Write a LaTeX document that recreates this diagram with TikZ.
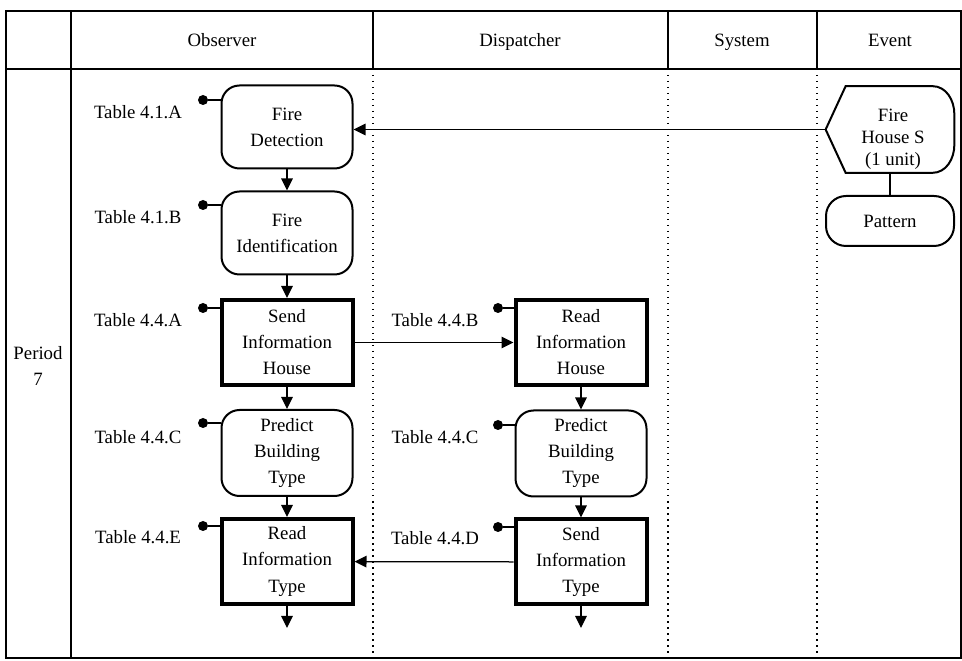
\documentclass[tikz,border=0pt]{standalone}
\usepackage{fontspec}
\setmainfont{Liberation Serif}
\usetikzlibrary{arrows.meta,calc}
\begin{document}
\begin{tikzpicture}[x=0.2mm,y=-0.2mm,
  every node/.style={font=\fontsize{10.7}{14.8}\selectfont},
  frame/.style={line width=0.4mm},
  lane/.style={line width=0.3mm, dash pattern=on 0.3mm off 0.9mm},
  head/.style={anchor=base, inner sep=0pt},
  proc/.style={draw, line width=0.4mm, rounded corners=3.6mm, minimum width=26.2mm,
    minimum height=16.6mm, align=center, inner sep=0pt},
  msg/.style={draw, line width=0.8mm, minimum width=26.2mm, minimum height=17mm,
    align=center, inner sep=0pt},
  arr/.style={line width=0.25mm, -{Triangle[length=2.4mm,width=2.3mm]}},
  link/.style={line width=0.3mm},
  pindot/.style={circle, fill, inner sep=0pt, minimum size=2mm},
  tbl/.style={anchor=center, inner sep=0pt},
]
\useasboundingbox (0,0) rectangle (962,661);

% ---- table frame and lanes ----
\draw[frame] (5.5,11) rectangle (961,658);
\draw[frame] (5.5,69) -- (961,69);
\draw[frame] (71,11) -- (71,658);
\foreach \lx in {373,668,817}{
  \draw[frame] (\lx,11) -- (\lx,69);
  \draw[lane] (\lx,69) -- (\lx,658);
}
\node[head] (hObs)  at (222,47) {Observer};
\node[head] (hDisp) at (520,47) {Dispatcher};
\node[head] (hSys)  at (742,47) {System};
\node[head] (hEv)   at (890,47) {Event};
\node[align=center] (per) at (38,366) {Period\\7};

% ---- observer lane ----
\node[proc] (fd)  at (287,127)   {Fire\\Detection};
\node[proc] (fi)  at (287,233)   {Fire\\Identification};
\node[msg]  (sih) at (287,342.5) {Send\\Information\\House};
\node[proc, minimum height=17.2mm] (pbt) at (287,453) {Predict\\Building\\Type};
\node[msg]  (rit) at (287,561.5) {Read\\Information\\Type};
\coordinate (oEnd) at (287,628);

% ---- dispatcher lane ----
\node[msg]  (rih)  at (581,342.5) {Read\\Information\\House};
\node[proc, minimum height=17.2mm] (pbt2) at (581,453.5) {Predict\\Building\\Type};
\node[msg]  (sit)  at (581,562)   {Send\\Information\\Type};
\coordinate (dEnd) at (581,628);

% ---- event lane ----
\node[minimum width=25.6mm, minimum height=17.2mm, inner sep=0pt] (ev) at (890,129.5) {};
\draw[line width=0.4mm] (ev.west) -- ([xshift=4mm]ev.north west)
  -- ([xshift=-4.4mm]ev.north east) to[out=0,in=90] ([yshift=-5.6mm]ev.north east)
  -- ([yshift=5.6mm]ev.south east) to[out=-90,in=0] ([xshift=-4.4mm]ev.south east)
  -- ([xshift=4mm]ev.south west) -- cycle;
\node[align=center, font=\fontsize{10.7}{12.4}\selectfont] (evt) at (893,139) {Fire\\House S\\(1 unit)};
\node[draw, line width=0.4mm, rounded corners=4mm, minimum width=25.6mm,
  minimum height=10mm, inner sep=0pt] (pat) at (890,221) {Pattern};
\draw[link] (ev.south) -- (pat.north);

% ---- table references with pins ----
\node[tbl] (t1) at (138,112) {Table 4.1.A};
\node[tbl] (t2) at (138,217) {Table 4.1.B};
\node[tbl] (t3) at (138,320) {Table 4.4.A};
\node[tbl] (t4) at (138,437) {Table 4.4.C};
\node[tbl] (t5) at (138,537) {Table 4.4.E};
\node[tbl] (t6) at (435,320) {Table 4.4.B};
\node[tbl] (t7) at (435,437) {Table 4.4.C};
\node[tbl] (t8) at (435,538) {Table 4.4.D};

\node[pindot] (p1) at (203,100) {};
\node[pindot] (p2) at (203,205) {};
\node[pindot] (p3) at (203,308) {};
\node[pindot] (p4) at (203,423) {};
\node[pindot] (p5) at (203,526) {};
\node[pindot] (p6) at (498,308) {};
\node[pindot] (p7) at (498,425) {};
\node[pindot] (p8) at (498,527) {};

\draw[link] (p1) -- (p1 -| fd.west);
\draw[link] (p2) -- (p2 -| fi.west);
\draw[link] (p3) -- (p3 -| sih.west);
\draw[link] (p4) -- (p4 -| pbt.west);
\draw[link] (p5) -- (p5 -| rit.west);
\draw[link] (p6) -- (p6 -| rih.west);
\draw[link] (p7) -- (p7 -| pbt2.west);
\draw[link] (p8) -- (p8 -| sit.west);

% ---- flow ----
\draw[arr] (fd) -- (fi);
\draw[arr] (fi) -- (sih);
\draw[arr] (sih) -- (pbt);
\draw[arr] (pbt) -- (rit);
\draw[arr] (rit) -- (oEnd);
\draw[arr] (rih) -- (pbt2);
\draw[arr] (pbt2) -- (sit);
\draw[arr] (sit) -- (dEnd);
\draw[arr] (sih) -- (rih);
\draw[arr] (sit) -- (rit);
\draw[arr] (ev.west) -- (ev.west -| fd.east);
\end{tikzpicture}
\end{document}
